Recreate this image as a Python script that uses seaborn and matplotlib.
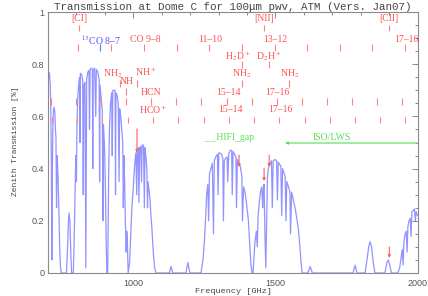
import matplotlib
matplotlib.use("Agg")
import matplotlib.pyplot as plt
from matplotlib.ticker import MultipleLocator
import pandas as pd
import seaborn as sns

# ---------------- data ----------------
freq_ghz = [
    700, 702, 705, 708, 710, 712, 713.5, 715, 717, 719, 721, 724, 726, 728, 730, 732, 735, 738, 741, 744, 747,
    765, 769, 772, 774, 777, 780, 783, 789,
    792, 795, 798, 800, 802, 805, 808, 811, 812.5, 814, 818, 822, 824, 826, 830, 833, 836, 840, 844, 846, 848,
    852, 856, 857.5, 859, 864, 868, 870, 875, 880, 881.5, 883, 887, 891, 893, 895, 899, 902, 905, 907, 910,
    913, 916, 920, 924, 926, 928, 932, 936, 937.5, 939, 943, 947, 950, 952, 956, 960, 963, 965, 967, 970,
    972, 975, 977, 979, 982,
    987, 990, 995, 1000, 1005, 1009, 1012, 1014, 1017, 1020, 1022, 1026, 1029, 1031, 1036, 1039, 1041, 1045,
    1048, 1050, 1052, 1056, 1059, 1062, 1065, 1068, 1071, 1075, 1080,
    1127, 1133, 1139, 1185, 1192, 1199,
    1238, 1245, 1250, 1254, 1258, 1262, 1265, 1268, 1273, 1278, 1282, 1285, 1290, 1296, 1298, 1301, 1305,
    1310, 1315, 1317, 1320, 1325, 1330, 1332, 1336, 1341, 1346, 1348, 1351, 1356, 1361, 1363, 1366, 1371,
    1376, 1382, 1384, 1388, 1393, 1399, 1405, 1410, 1414, 1418,
    1421, 1424, 1428, 1433, 1436, 1439, 1444, 1449, 1452, 1455, 1457, 1460, 1463, 1466, 1469, 1472, 1475,
    1478, 1482, 1486, 1489, 1492, 1499, 1504, 1507, 1510, 1515, 1519, 1522, 1525, 1528, 1534, 1537, 1540,
    1546, 1551, 1553, 1557, 1563, 1569, 1575, 1581, 1586, 1590, 1594,
    1614, 1622, 1630, 1773, 1780, 1787, 1815, 1822, 1828, 1833, 1838, 1844, 1850, 1885, 1892, 1897, 1902, 1908,
    1930, 1937, 1942, 1946, 1949, 1952, 1956, 1960, 1963, 1966, 1970, 1974, 1977, 1980, 1985, 1989, 1992,
    1995, 2000,
]
transmission = [
    0.74, 0.77, 0.765, 0.72, 0.62, 0.40, 0.05, 0.35, 0.55, 0.62, 0.635, 0.62, 0.55, 0.52, 0.25, 0.45, 0.38, 0.25, 0.10, 0.02, 0.0,
    0.0, 0.10, 0.20, 0.23, 0.20, 0.08, 0.0, 0.0,
    0.12, 0.30, 0.45, 0.35, 0.58, 0.68, 0.72, 0.75, 0.50, 0.765, 0.76, 0.74, 0.30, 0.72, 0.73, 0.02, 0.74, 0.77, 0.775, 0.55, 0.78,
    0.785, 0.78, 0.40, 0.78, 0.785, 0.60, 0.78, 0.77, 0.74, 0.35, 0.72, 0.67, 0.62, 0.20, 0.57, 0.48, 0.32, 0.10, 0.0, 0.0,
    0.35, 0.55, 0.65, 0.69, 0.45, 0.70, 0.70, 0.70, 0.30, 0.69, 0.68, 0.65, 0.35, 0.63, 0.60, 0.54, 0.50, 0.25, 0.45, 0.33,
    0.20, 0.08, 0.16, 0.12, 0.0,
    0.04, 0.12, 0.25, 0.33, 0.42, 0.46, 0.30, 0.47, 0.48, 0.27, 0.48, 0.485, 0.35, 0.49, 0.49, 0.25, 0.48, 0.44,
    0.39, 0.25, 0.35, 0.31, 0.28, 0.22, 0.18, 0.12, 0.07, 0.02, 0.0,
    0.0, 0.025, 0.0, 0.0, 0.04, 0.0,
    0.0, 0.05, 0.12, 0.20, 0.30, 0.34, 0.20, 0.38, 0.40, 0.42, 0.15, 0.43, 0.445, 0.455, 0.30, 0.46, 0.46,
    0.455, 0.44, 0.20, 0.43, 0.44, 0.445, 0.35, 0.46, 0.47, 0.47, 0.30, 0.465, 0.455, 0.445, 0.25, 0.435, 0.42,
    0.41, 0.37, 0.20, 0.33, 0.31, 0.26, 0.20, 0.10, 0.03, 0.0,
    0.0, 0.05, 0.12, 0.16, 0.10, 0.22, 0.28, 0.32, 0.33, 0.25, 0.31, 0.34, 0.15, 0.02, 0.20, 0.37, 0.40,
    0.41, 0.42, 0.43, 0.25, 0.43, 0.435, 0.43, 0.28, 0.425, 0.415, 0.41, 0.22, 0.40, 0.39, 0.37, 0.20, 0.35,
    0.33, 0.31, 0.15, 0.31, 0.28, 0.25, 0.21, 0.165, 0.10, 0.04, 0.0,
    0.0, 0.025, 0.0, 0.0, 0.03, 0.0, 0.0, 0.05, 0.10, 0.12, 0.10, 0.04, 0.0, 0.0, 0.04, 0.05, 0.03, 0.0,
    0.0, 0.02, 0.06, 0.09, 0.03, 0.12, 0.15, 0.16, 0.08, 0.18, 0.20, 0.21, 0.14, 0.235, 0.24, 0.245, 0.20,
    0.235, 0.22,
]

x_ticks = [1000, 1500, 2000]
x_tick_labels = ["1000", "1500", "2000"]
y_ticks = [0, 0.2, 0.4, 0.6, 0.8, 1.0]
y_tick_labels = ["0", "0.2", "0.4", "0.6", "0.8", "1"]

# spectral line markers (GHz)
fine_structure_freqs = [809.3, 1461.1, 1900.5]
fine_structure_labels = ["[CI]", "[NII]", "[CII]"]
co12_freqs = [806.7, 921.8, 1036.9, 1152.0, 1267.0, 1382.0, 1496.9, 1611.8, 1726.6, 1841.3, 1956.0]
co13_freqs = [881.3]
co_label_texts = ["$^{13}$CO 8–7", "CO 9–8", "11–10", "13–12", "17–16"]
co_label_freqs = [885, 1043, 1270, 1499, 1959]
deut_freqs = [1382.0, 1476.6]
deut_labels = ["H$_2$D$^+$", "D$_2$H$^+$"]
deut_label_freqs = [1369, 1477]
nh2_freqs = [953.0, 1382.0, 1548.0]
nh2_label_freqs = [926, 1381, 1550]
nh_freqs = [974.5]
nhp_freqs = [1012.5]
hcn_freqs = [708.9, 797.4, 886.0, 974.5, 1062.9, 1151.4, 1239.9, 1328.3, 1416.7, 1505.1, 1593.4,
             1681.7, 1770.0, 1858.2, 1946.4]
hcn_labels = ["HCN", "15–14", "17–16"]
hcn_label_freqs = [1064, 1335, 1507]
hcop_freqs = [713.3, 802.5, 891.6, 980.6, 1069.7, 1158.7, 1247.6, 1336.5, 1425.4, 1514.2, 1602.9,
              1691.6, 1780.1, 1868.7, 1957.2]
hcop_labels = ["HCO$^+$", "15–14", "17–16"]
hcop_label_freqs = [1070, 1340, 1516]
arrow_freqs = [1013, 1372, 1460, 1478, 1900.5]
arrow_tails = [0.552, 0.452, 0.402, 0.452, 0.10]
arrow_tips = [0.46, 0.406, 0.352, 0.406, 0.057]
hifi_gap_start = 1250
iso_lws_start = 1534

# ---------------- plotting ----------------
sns.set_style("white")
plt.rcParams["font.family"] = ["Liberation Sans", "DejaVu Sans"]
plt.rcParams["mathtext.fontset"] = "stix"

W, H = 428, 296
fig = plt.figure(figsize=(W / 100, H / 100), dpi=100)
ax = fig.add_axes([48 / W, 23 / H, 369.6 / W, 261 / H])

df = pd.DataFrame({"Frequency": freq_ghz, "Transmission": transmission})
sns.lineplot(data=df, x="Frequency", y="Transmission", ax=ax, color="#3a3aff",
             lw=0.9, alpha=0.55, estimator=None, sort=False)

ax.set_xlim(700, 2000)
ax.set_ylim(0, 1)
ax.set_xticks(x_ticks)
ax.set_xticklabels(x_tick_labels)
ax.set_yticks(y_ticks)
ax.set_yticklabels(y_tick_labels)
ax.xaxis.set_minor_locator(MultipleLocator(100))
ax.yaxis.set_minor_locator(MultipleLocator(0.05))
ax.tick_params(which="both", direction="in", top=True, right=True, colors="#8a8a8a",
               labelcolor="#555555", labelsize=6.5, width=0.7)
ax.tick_params(which="major", length=4)
ax.tick_params(which="minor", length=2)
ax.tick_params(axis="x", pad=4)
ax.tick_params(axis="y", pad=2.5)
for s in ax.spines.values():
    s.set_color("#8a8a8a")
    s.set_linewidth(0.8)
ax.set_xlabel("")
ax.set_ylabel("")

mono = "Liberation Mono"
serif = "Liberation Serif"
fig.text(233 / W, 1 - 6.5 / H, "Transmission at Dome C for 100μm pwv, ATM (Vers. Jan07)",
         ha="center", va="center", fontsize=7.8, family=mono, color="#444444")
fig.text(16 / W, 1 - 141.5 / H, "Zenith Transmission [%]", rotation=90,
         ha="center", va="center", fontsize=5.8, family=mono, color="#444444")
fig.text(233 / W, 1 - 291.5 / H, "Frequency [GHz]", ha="center", va="center",
         fontsize=6.1, family=mono, color="#444444")

red_t = "#ff5050"
red_l = "#ff8080"
blue_t = "#5050ff"
green = "#55e055"
fs = 7.0


def ticks(freqs, y0, y1, color=red_l):
    ax.vlines(freqs, y0, y1, colors=color, lw=0.8)


def label(f, y, s, color=red_t, size=fs, ha="center"):
    ax.text(f, y, s, ha=ha, va="center", fontsize=size, family=serif, color=color)


# row 1: fine structure lines
ticks(fine_structure_freqs, 0.927, 0.950)
for f, s in zip(fine_structure_freqs, fine_structure_labels):
    label(f, 0.977, s)

# row 2: CO ladder
ticks(co12_freqs, 0.851, 0.877)
ticks(co13_freqs, 0.851, 0.877, color="#7070ff")
for i, (f, s) in enumerate(zip(co_label_freqs, co_label_texts)):
    label(f, 0.893, s, color=blue_t if i == 0 else red_t)

# row 3: deuterated ions
ticks(deut_freqs, 0.785, 0.812)
for f, s in zip(deut_label_freqs, deut_labels):
    label(f, 0.831, s)

# row 4: NH2, NH, NH+
ticks(nh2_freqs, 0.713, 0.739)
ticks(nhp_freqs, 0.713, 0.739)
ticks(nh_freqs, 0.682, 0.709)
for f in nh2_label_freqs:
    label(f, 0.764, "NH$_2$")
label(978, 0.732, "NH")
label(1044, 0.770, "NH$^+$")

# row 5: HCN
ticks(hcn_freqs, 0.644, 0.670)
for f, s in zip(hcn_label_freqs, hcn_labels):
    label(f, 0.693, s)

# row 6: HCO+
ticks(hcop_freqs, 0.575, 0.598)
for f, s in zip(hcop_label_freqs, hcop_labels):
    label(f, 0.625, s)

# arrows pointing at the curve
for f, t0, t1 in zip(arrow_freqs, arrow_tails, arrow_tips):
    ax.annotate("", xy=(f, t1), xytext=(f, t0),
                arrowprops=dict(arrowstyle="-|>", color="#ff6060", lw=0.8,
                                mutation_scale=4, shrinkA=0, shrinkB=0))

# HIFI gap and ISO/LWS
label(hifi_gap_start, 0.521, "_ _HIFI_gap", color=green, ha="left")
label(1699, 0.521, "ISO/LWS", color=green)
ax.annotate("", xy=(iso_lws_start, 0.498), xytext=(2000, 0.498),
            arrowprops=dict(arrowstyle="-|>", color=green, lw=0.8,
                            mutation_scale=4, shrinkA=0, shrinkB=0))

fig.savefig("out.png", dpi=100)
